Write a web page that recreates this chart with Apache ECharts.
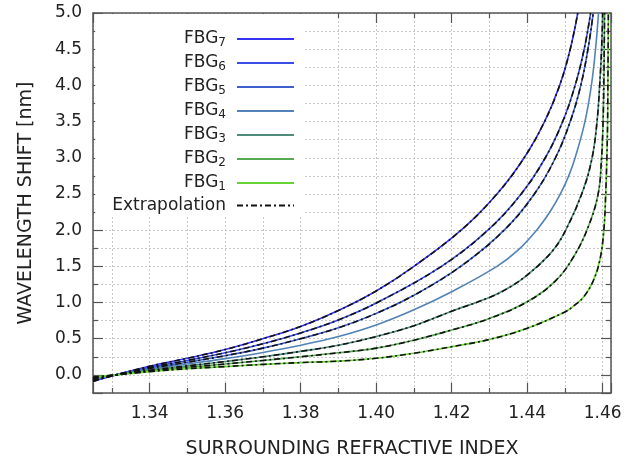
<!DOCTYPE html>
<html>
<head>
<meta charset="utf-8">
<script src="https://cdn.jsdelivr.net/npm/echarts@6/dist/echarts.min.js"></script>
<style>html,body{margin:0;padding:0;background:#fff}#c{width:633px;height:466px}</style>
</head>
<body>
<div id="c"></div>
<script>
// ---- data ----
const seriesNames = ['FBG7','FBG6','FBG5','FBG4','FBG3','FBG2','FBG1'];
const extrapolated = ['FBG7','FBG6','FBG5','FBG3','FBG2','FBG1'];
const xTickLabels = ['1.34','1.36','1.38','1.40','1.42','1.44','1.46'];
const yTickLabels = ['0.0','0.5','1.0','1.5','2.0','2.5','3.0','3.5','4.0','4.5','5.0'];

// refractive index (n) and wavelength shift (v, nm)
const fbg7_n = [1.325,1.331,1.34,1.35,1.36,1.37,1.38,1.39,1.40,1.41,1.4225,1.4320,1.4392,1.4446,1.4486,1.4514,1.4534];
const fbg7_v = [-0.09,0,0.12,0.23,0.35,0.50,0.67,0.89,1.16,1.5,2.0,2.5,3.0,3.5,4.0,4.5,5.0];
const fbg6_n = [1.325,1.331,1.34,1.35,1.36,1.37,1.38,1.39,1.4003,1.4173,1.4296,1.4384,1.4448,1.4494,1.4527,1.4551,1.4568];
const fbg6_v = [-0.08,0,0.105,0.20,0.305,0.43,0.58,0.76,1.0,1.5,2.0,2.5,3.0,3.5,4.0,4.5,5.0];
const fbg5_n = [1.325,1.331,1.34,1.35,1.36,1.37,1.38,1.39,1.40,1.41,1.4224,1.4339,1.4419,1.4475,1.4514,1.4542,1.4561,1.4575];
const fbg5_v = [-0.07,0,0.09,0.175,0.265,0.37,0.50,0.65,0.85,1.10,1.5,2.0,2.5,3.0,3.5,4.0,4.5,5.0];
const fbg4_n = [1.325,1.331,1.34,1.35,1.36,1.37,1.38,1.39,1.40,1.41,1.42,1.4320,1.4375,1.4425,1.4460,1.4488,1.4510,1.4527,1.4553,1.4570,1.4581,1.4589];
const fbg4_v = [-0.06,0,0.08,0.15,0.225,0.31,0.41,0.53,0.69,0.90,1.15,1.5,1.72,2.0,2.25,2.5,2.75,3.0,3.5,4.0,4.5,5.0];
const fbg3_n = [1.325,1.331,1.34,1.35,1.36,1.37,1.38,1.39,1.40,1.41,1.42,1.43,1.435,1.44,1.4465,1.4502,1.4548,1.4572,1.4585,1.4592,1.4597,1.4600];
const fbg3_v = [-0.05,0,0.065,0.125,0.185,0.25,0.325,0.41,0.53,0.68,0.88,1.07,1.20,1.38,1.7,2.0,2.55,3.0,3.5,4.0,4.5,5.0];
const fbg2_n = [1.325,1.331,1.34,1.35,1.36,1.37,1.38,1.39,1.40,1.41,1.42,1.43,1.44,1.4475,1.4525,1.4562,1.4588,1.4597,1.4601,1.4603,1.4604,1.4605];
const fbg2_v = [-0.04,0,0.055,0.105,0.15,0.20,0.25,0.305,0.37,0.48,0.62,0.78,1.01,1.3,1.65,2.05,2.5,3.0,3.5,4.0,4.5,5.0];
const fbg1_n = [1.325,1.331,1.34,1.35,1.36,1.37,1.38,1.39,1.40,1.41,1.42,1.43,1.44,1.45,1.4525,1.4550,1.4575,1.4593,1.4603,1.4608,1.4611,1.4613,1.4614,1.4615];
const fbg1_v = [-0.03,0,0.045,0.085,0.115,0.145,0.17,0.19,0.23,0.30,0.39,0.49,0.645,0.87,0.96,1.08,1.3,1.6,2.0,2.5,3.0,3.5,4.2,5.0];

const curveN = {FBG7:fbg7_n, FBG6:fbg6_n, FBG5:fbg5_n, FBG4:fbg4_n, FBG3:fbg3_n, FBG2:fbg2_n, FBG1:fbg1_n};
const curveV = {FBG7:fbg7_v, FBG6:fbg6_v, FBG5:fbg5_v, FBG4:fbg4_v, FBG3:fbg3_v, FBG2:fbg2_v, FBG1:fbg1_v};
const colors = {FBG7:'#3434f2', FBG6:'#3a4ee6', FBG5:'#3e5fd0', FBG4:'#5283b6', FBG3:'#4f8c7c', FBG2:'#58aa52', FBG1:'#68d434'};

function pairs(name){ return curveN[name].map((n,i)=>[n, curveV[name][i]]); }

const FONT = 'DejaVu Sans';
const SMOOTH = 0.4;
const series = [];
seriesNames.forEach(nm => {
  series.push({
    name: nm, type: 'line', data: pairs(nm), showSymbol: false, symbol: 'none',
    smooth: SMOOTH,
    lineStyle: {color: colors[nm], width: 1.6}, itemStyle: {color: colors[nm]}, z: 2
  });
});
extrapolated.forEach(nm => {
  series.push({
    name: 'Extrapolation', type: 'line', data: pairs(nm), showSymbol: false, symbol: 'none',
    smooth: SMOOTH,
    lineStyle: {color: '#111', width: 1.6, type: [6,3,2,3]}, itemStyle: {color: '#111'}, z: 3
  });
});

const axisCol = '#555';
const gridLine = {show: true, lineStyle: {color: '#c8c8c8', width: 1, type: [2,2]}};
function xLab(v){ const s = v.toFixed(2); return (Math.abs(v*50 - Math.round(v*50)) < 1e-6 && xTickLabels.indexOf(s) >= 0) ? s : ''; }
function yLab(v){ const s = v.toFixed(1); return (Math.abs(v*2 - Math.round(v*2)) < 1e-6 && yTickLabels.indexOf(s) >= 0) ? s : ''; }

const baseX = {
  type: 'value', min: 1.325, max: 1.4622, minInterval: 0.02, maxInterval: 0.02, splitNumber: 6,
  axisLine: {show: true, onZero: false, lineStyle: {color: axisCol, width: 1.5}},
  axisTick: {show: true, inside: true, length: 10, lineStyle: {color: axisCol, width: 1.2}},
  minorTick: {show: true, splitNumber: 2, length: 5, lineStyle: {color: axisCol, width: 1.2}},
};
const baseY = {
  type: 'value', min: -0.25, max: 5, minInterval: 0.5, maxInterval: 0.5, splitNumber: 10,
  axisLine: {show: true, onZero: false, lineStyle: {color: axisCol, width: 1.5}},
  axisTick: {show: true, inside: true, length: 10, lineStyle: {color: axisCol, width: 1.2}},
  minorTick: {show: true, splitNumber: 2, length: 5, lineStyle: {color: axisCol, width: 1.2}},
};

const chart = echarts.init(document.getElementById('c'), null, {renderer: 'canvas'});
chart.setOption({
  animation: false,
  backgroundColor: '#fff',
  grid: {left: 93, right: 22, top: 13, bottom: 73, containLabel: false},
  xAxis: [
    Object.assign({}, baseX, {
      position: 'bottom',
      name: 'SURROUNDING REFRACTIVE INDEX', nameLocation: 'middle', nameGap: 47,
      nameTextStyle: {fontFamily: FONT, fontSize: 19, color: '#222'},
      axisLabel: {show: true, margin: 12, formatter: xLab, fontFamily: FONT, fontSize: 17, color: '#222'},
      splitLine: gridLine, minorSplitLine: gridLine
    }),
    Object.assign({}, baseX, {position: 'top', axisLabel: {show: false}, splitLine: {show: false}})
  ],
  yAxis: [
    Object.assign({}, baseY, {
      position: 'left',
      name: 'WAVELENGTH SHIFT [nm]', nameLocation: 'middle', nameGap: 57,
      nameTextStyle: {fontFamily: FONT, fontSize: 19, color: '#222'},
      axisLabel: {show: true, margin: 11, formatter: yLab, fontFamily: FONT, fontSize: 17, color: '#222'},
      splitLine: gridLine, minorSplitLine: gridLine
    }),
    Object.assign({}, baseY, {position: 'right', axisLabel: {show: false}, splitLine: {show: false}})
  ],
  legend: {
    orient: 'vertical', align: 'right', right: 330, top: 14,
    backgroundColor: '#fff', padding: [15, 8, 1, 17],
    itemWidth: 57, itemHeight: 20, itemGap: 4,
    itemStyle: {opacity: 0, color: 'rgba(0,0,0,0)', borderColor: 'rgba(0,0,0,0)', borderWidth: 0},
    data: seriesNames.concat(['Extrapolation']),
    formatter: function(name){
      if (name.indexOf('FBG') === 0) return '{a|FBG}{s|' + name.slice(3) + '}';
      return '{e|' + name + '}';
    },
    textStyle: {
      fontFamily: FONT, fontSize: 17, color: '#222',
      rich: {
        a: {fontFamily: FONT, fontSize: 17, color: '#222', lineHeight: 20},
        s: {fontFamily: FONT, fontSize: 12, color: '#222', lineHeight: 20, verticalAlign: 'bottom', padding: [8, 6, 0, 0]},
        e: {fontFamily: FONT, fontSize: 17, color: '#222', lineHeight: 20, padding: [0, 6, 0, 0]}
      }
    }
  },
  series: series
});
</script>
</body>
</html>
